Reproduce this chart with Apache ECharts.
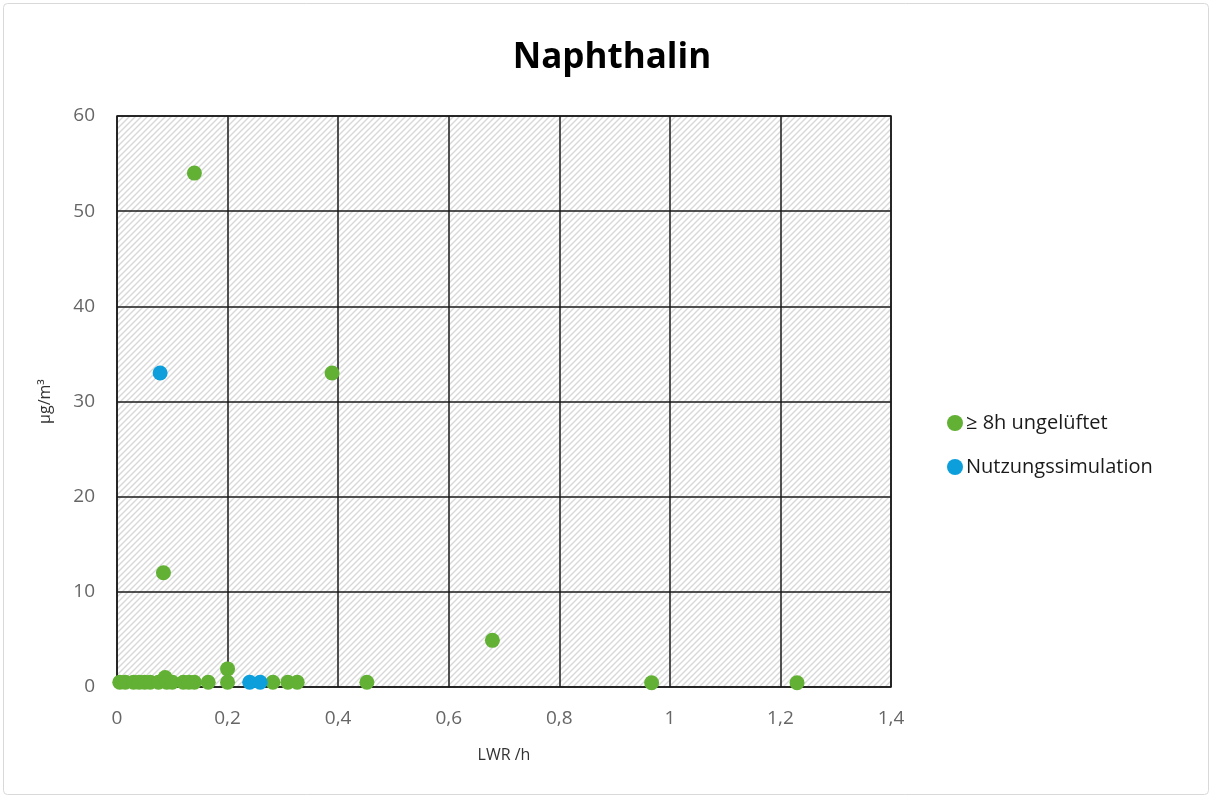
<!DOCTYPE html>
<html>
<head>
<meta charset="utf-8">
<script src="https://cdn.jsdelivr.net/npm/echarts@6/dist/echarts.min.js"></script>
<style>
  html, body { margin: 0; padding: 0; background: #fff; }
  #chart { width: 1213px; height: 799px; }
</style>
</head>
<body>
<div id="chart"></div>
<script>
// Naphthalin concentration vs. air exchange rate (LWR)
const titleText = 'Naphthalin';
const xAxisName = 'LWR /h';
const yAxisName = 'µg/m³';
const seriesNames = ['≥ 8h ungelüftet', 'Nutzungssimulation'];

// ≥ 8h ungelüftet: [LWR, µg/m³]
const unventilated = [
  [0.005, 0.5], [0.015, 0.5], [0.03, 0.5], [0.04, 0.5], [0.05, 0.5],
  [0.06, 0.5], [0.075, 0.5], [0.087, 1.0], [0.09, 0.5], [0.1, 0.5],
  [0.12, 0.5], [0.13, 0.5], [0.14, 0.5], [0.084, 12], [0.14, 54],
  [0.165, 0.5], [0.2, 1.9], [0.2, 0.5], [0.282, 0.5], [0.309, 0.5],
  [0.326, 0.5], [0.389, 33], [0.452, 0.5], [0.679, 4.9], [0.967, 0.45],
  [1.23, 0.45]
];

// Nutzungssimulation: [LWR, µg/m³]
const simulation = [
  [0.078, 33], [0.24, 0.5], [0.259, 0.5]
];

const xTicks = { min: 0, max: 1.4, interval: 0.2 };
const yTicks = { min: 0, max: 60, interval: 10 };

// diagonal hatch fill for the plot area
function hatchPattern() {
  const s = 6;
  const c = document.createElement('canvas');
  c.width = s; c.height = s;
  const g = c.getContext('2d');
  g.fillStyle = '#ffffff';
  g.fillRect(0, 0, s, s);
  g.strokeStyle = '#d8d8d8';
  g.lineWidth = 1.4;
  g.beginPath();
  g.moveTo(-1, s + 1); g.lineTo(s + 1, -1);
  g.moveTo(-1, 1); g.lineTo(1, -1);
  g.moveTo(s - 1, s + 1); g.lineTo(s + 1, s - 1);
  g.stroke();
  return { image: c, repeat: 'repeat' };
}

const font = '"Open Sans", "Noto Sans", sans-serif';
const chart = echarts.init(document.getElementById('chart'), null, { renderer: 'canvas' });

const fmt = v => String(+v.toFixed(1)).replace('.', ',');

chart.setOption({
  animation: false,
  backgroundColor: '#ffffff',
  title: {
    text: titleText,
    top: 36,
    left: 607,
    textAlign: 'center',
    textStyle: { fontFamily: font, fontWeight: 'bold', fontSize: 35, color: '#000' }
  },
  graphic: [{
    type: 'rect',
    shape: { x: 3.5, y: 3.5, width: 1205, height: 791, r: 4 },
    style: { fill: null, stroke: '#d9d9d9', lineWidth: 1 },
    silent: true
  }],
  legend: {
    orient: 'vertical',
    left: 942,
    top: 408,
    itemGap: 24,
    itemWidth: 16,
    itemHeight: 16,
    icon: 'circle',
    data: seriesNames,
    textStyle: { fontFamily: font, fontSize: 20, color: '#1a1a1a', padding: [0, 0, 0, -2] }
  },
  grid: {
    left: 117, right: 322, top: 116, bottom: 112,
    show: true,
    backgroundColor: hatchPattern(),
    borderColor: '#1a1a1a',
    borderWidth: 1.5
  },
  xAxis: {
    type: 'value',
    min: xTicks.min, max: xTicks.max, interval: xTicks.interval,
    name: xAxisName,
    nameLocation: 'middle',
    nameGap: 60,
    nameTextStyle: { fontFamily: font, fontSize: 16, color: '#333' },
    axisLine: { show: false },
    axisTick: { show: false },
    axisLabel: { formatter: fmt, fontFamily: font, fontSize: 19, color: '#666', margin: 22 },
    splitLine: { show: true, lineStyle: { color: '#1a1a1a', width: 1.5 } }
  },
  yAxis: {
    type: 'value',
    min: yTicks.min, max: yTicks.max, interval: yTicks.interval,
    name: yAxisName,
    nameLocation: 'middle',
    nameGap: 64,
    nameRotate: 90,
    nameTextStyle: { fontFamily: font, fontSize: 16, color: '#333' },
    axisLine: { show: false },
    axisTick: { show: false },
    axisLabel: { fontFamily: font, fontSize: 19, color: '#666', margin: 22 },
    splitLine: { show: true, lineStyle: { color: '#1a1a1a', width: 1.5 } }
  },
  series: [
    {
      name: seriesNames[0],
      type: 'scatter',
      symbolSize: 15,
      itemStyle: { color: '#62b034', opacity: 1 },
      data: unventilated
    },
    {
      name: seriesNames[1],
      type: 'scatter',
      symbolSize: 15,
      itemStyle: { color: '#0c9fdc', opacity: 1 },
      data: simulation
    }
  ]
});
</script>
</body>
</html>
